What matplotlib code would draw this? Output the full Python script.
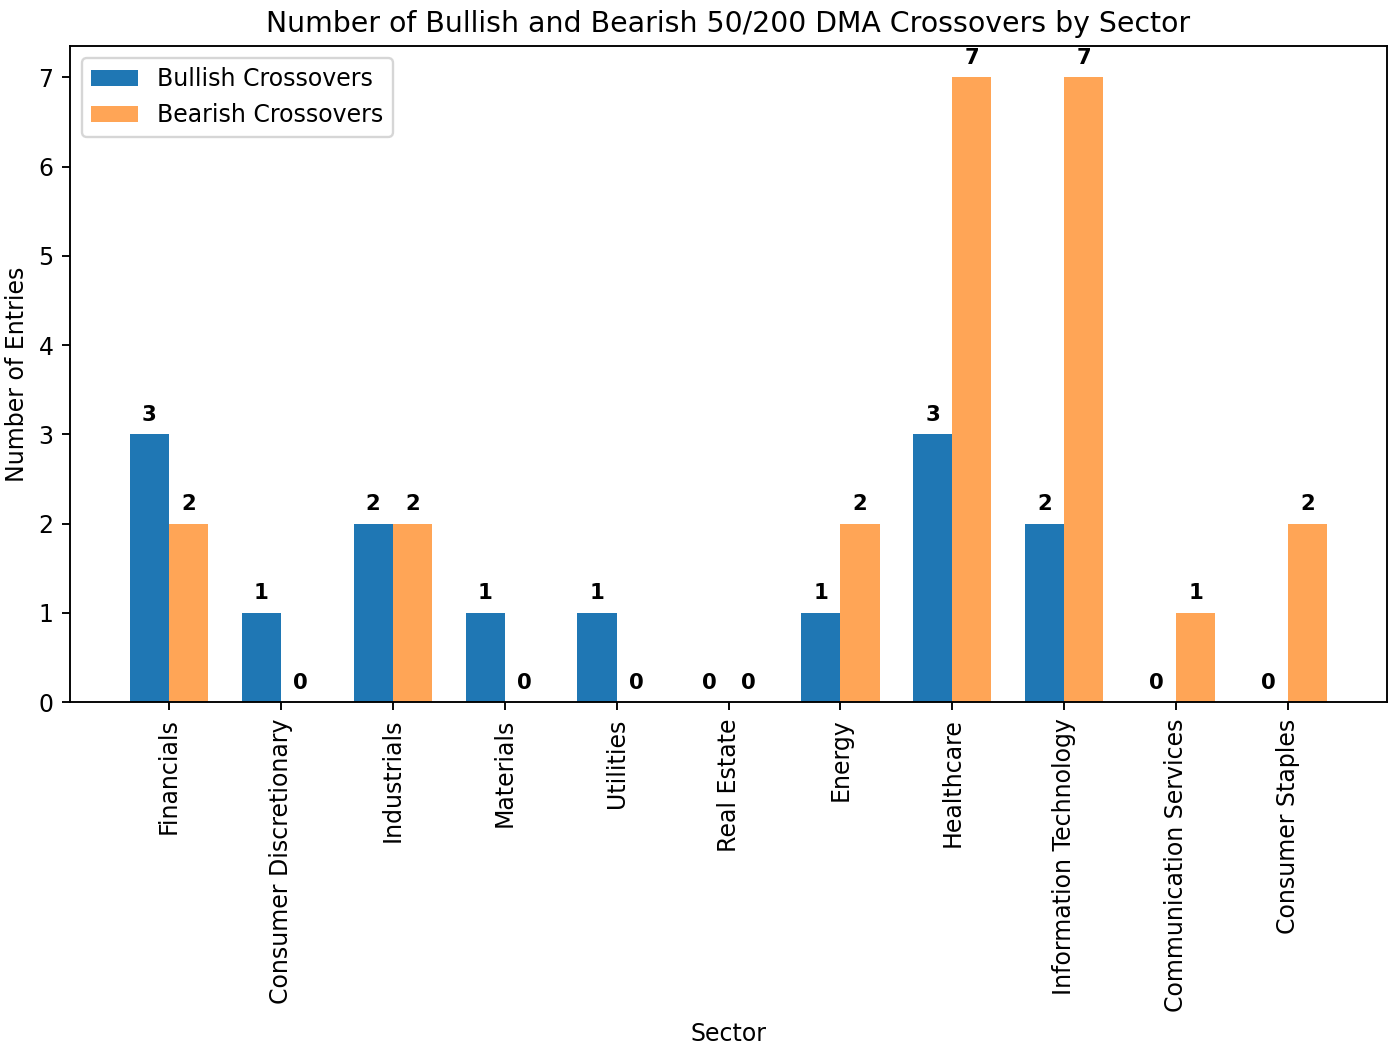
import matplotlib.pyplot as plt
import numpy as np

sectors = ['Financials', 'Consumer Discretionary', 'Industrials', 'Materials',
           'Utilities', 'Real Estate', 'Energy', 'Healthcare',
           'Information Technology', 'Communication Services', 'Consumer Staples']
bullish = [3, 1, 2, 1, 1, 0, 1, 3, 2, 0, 0]
bearish = [2, 0, 2, 0, 0, 0, 2, 7, 7, 1, 2]

x = np.arange(len(sectors))
width = 0.35

fig, ax = plt.subplots(figsize=(1392/170, 1050/170), dpi=170)
b1 = ax.bar(x - width/2, bullish, width, label='Bullish Crossovers', color='tab:blue')
b2 = ax.bar(x + width/2, bearish, width, label='Bearish Crossovers', color='tab:orange', alpha=0.7)

for bars in (b1, b2):
    for bar in bars:
        h = bar.get_height()
        ax.annotate('{}'.format(int(h)), xy=(bar.get_x() + bar.get_width()/2, h),
                    xytext=(0, 4), textcoords='offset points',
                    ha='center', va='bottom', fontsize=9, fontweight='bold')

ax.set_xlabel('Sector')
ax.set_ylabel('Number of Entries')
ax.set_title('Number of Bullish and Bearish 50/200 DMA Crossovers by Sector')
ax.set_xticks(x)
ax.set_xticklabels(sectors, rotation=90)
ax.legend(loc='upper left')

plt.subplots_adjust(left=0.0503, right=0.9964, top=0.956, bottom=0.3314)
plt.savefig('out.png')
